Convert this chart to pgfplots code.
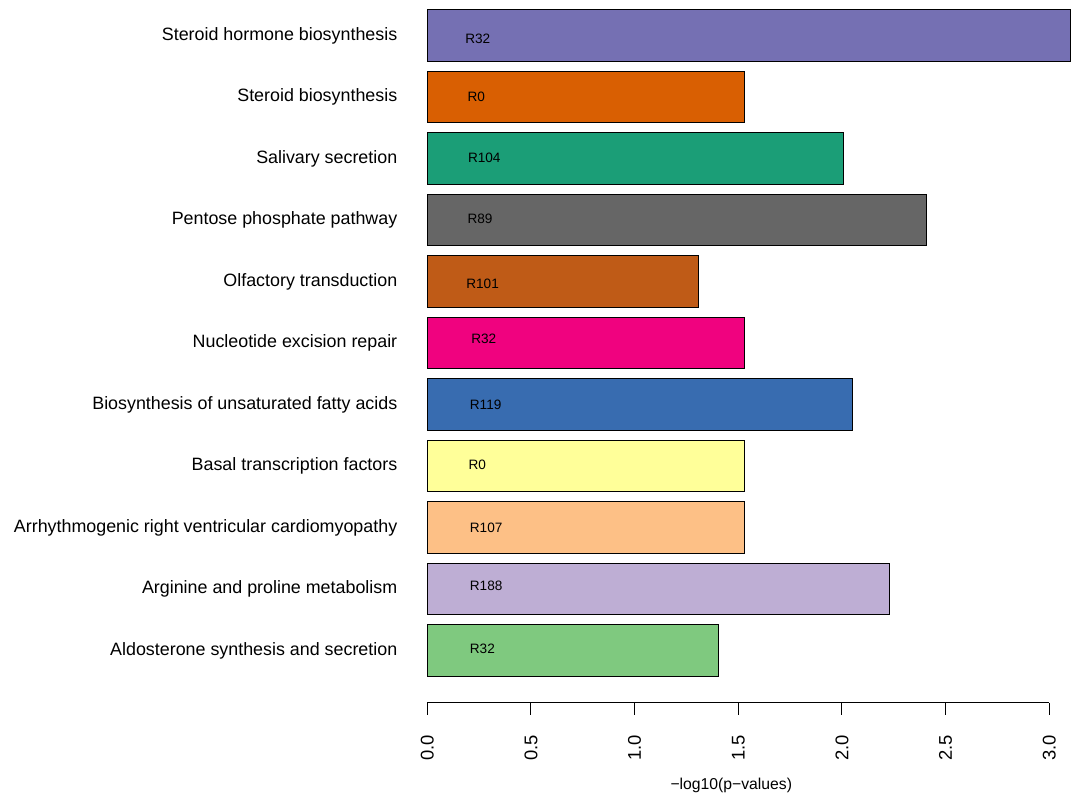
\documentclass[border=0pt]{standalone}
\usepackage{fontspec}
\setmainfont{Liberation Sans}
\usepackage{pgfplots}
\pgfplotsset{compat=1.18}

% Accent / Dark2 palette
\definecolor{cAldo}{HTML}{7FC97F}
\definecolor{cArg}{HTML}{BEAED4}
\definecolor{cArr}{HTML}{FDC086}
\definecolor{cBasal}{HTML}{FFFF99}
\definecolor{cBio}{HTML}{386CB0}
\definecolor{cNuc}{HTML}{F0027F}
\definecolor{cOlf}{HTML}{BF5B17}
\definecolor{cPent}{HTML}{666666}
\definecolor{cSal}{HTML}{1B9E77}
\definecolor{cSter}{HTML}{D95F02}
\definecolor{cHorm}{HTML}{7570B3}

\begin{document}
\begin{tikzpicture}
\useasboundingbox (-320.5pt,-70.05pt) rectangle (483.5pt,527pt);
\begin{axis}[
  scale only axis,
  width=466.5pt, height=519.5pt,
  xmin=0, xmax=3, ymin=-0.32, ymax=13.2,
  clip=false,
  axis x line*=bottom,
  axis y line*=left,
  y axis line style={draw=none},
  x axis line style={line width=0.75pt, black},
  xtick={0,0.5,1,1.5,2,2.5,3},
  xticklabels={0.0,0.5,1.0,1.5,2.0,2.5,3.0},
  tick align=outside,
  xtick style={line width=0.75pt, black},
  major tick length=9pt,
  xticklabel style={yshift=-15pt, rotate=90, anchor=east, inner sep=0pt,
    font=\fontsize{13.8}{16}\selectfont},
  ytick={0.7,1.9,3.1,4.3,5.5,6.7,7.9,9.1,10.3,11.5,12.7},
  yticklabels={Aldosterone synthesis and secretion,
    Arginine and proline metabolism,
    Arrhythmogenic right ventricular cardiomyopathy,
    Basal transcription factors,
    Biosynthesis of unsaturated fatty acids,
    Nucleotide excision repair,
    Olfactory transduction,
    Pentose phosphate pathway,
    Salivary secretion,
    Steroid biosynthesis,
    Steroid hormone biosynthesis},
  ytick style={draw=none},
  yticklabel style={anchor=east, inner sep=0pt, xshift=-13.35pt,
    font=\fontsize{13.4}{16}\selectfont},
  xlabel={−log10(p−values)},
  xlabel style={at={(axis description cs:0.4887,0)}, anchor=center,
    yshift=-62pt, inner sep=0pt, font=\fontsize{11.8}{14}\selectfont},
  every axis plot/.append style={xbar, bar width=1, bar shift=0pt,
    draw=black, line width=0.75pt},
]
\addplot[fill=cAldo]  coordinates {(1.404,0.7)};
\addplot[fill=cArg]   coordinates {(2.230,1.9)};
\addplot[fill=cArr]   coordinates {(1.529,3.1)};
\addplot[fill=cBasal] coordinates {(1.529,4.3)};
\addplot[fill=cBio]   coordinates {(2.053,5.5)};
\addplot[fill=cNuc]   coordinates {(1.529,6.7)};
\addplot[fill=cOlf]   coordinates {(1.307,7.9)};
\addplot[fill=cPent]  coordinates {(2.407,9.1)};
\addplot[fill=cSal]   coordinates {(2.006,10.3)};
\addplot[fill=cSter]  coordinates {(1.529,11.5)};
\addplot[fill=cHorm]  coordinates {(3.104,12.7)};

% module labels inside the bars
\begin{scope}[every node/.style={anchor=west, inner sep=0pt,
    font=\fontsize{10.2}{12}\selectfont}]
\node at (axis cs:0.204,0.740)  {R32};
\node at (axis cs:0.204,1.962)  {R188};
\node at (axis cs:0.204,3.102)  {R107};
\node at (axis cs:0.198,4.318)  {R0};
\node at (axis cs:0.204,5.489)  {R119};
\node at (axis cs:0.211,6.777)  {R32};
\node at (axis cs:0.187,7.851)  {R101};
\node at (axis cs:0.193,9.120)  {R89};
\node at (axis cs:0.195,10.305) {R104};
\node at (axis cs:0.193,11.507) {R0};
\node at (axis cs:0.182,12.647) {R32};
\end{scope}
\end{axis}
\end{tikzpicture}
\end{document}
